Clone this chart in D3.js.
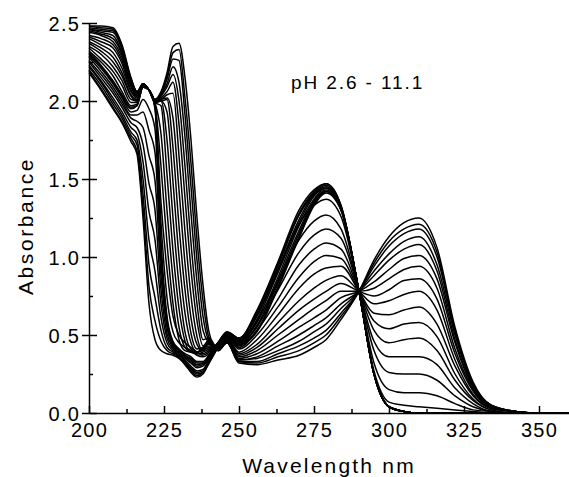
<!DOCTYPE html>
<html>
<head>
<meta charset="utf-8">
<script src="https://cdn.jsdelivr.net/npm/d3@7"></script>
<style>
  html, body { margin: 0; padding: 0; background: #fff; }
  svg { display: block; font-family: 'Liberation Sans', Arial, sans-serif; }
</style>
</head>
<body>
<svg id="chart" width="569" height="477"></svg>
<script>
// Wavelength grid (nm) shared by every spectrum
const wavelengths = [200, 204, 208, 211, 214, 216, 218, 220, 222, 224, 226, 228, 230, 232, 234, 236, 238, 240, 243, 246,
  250, 256, 263, 270, 275, 279, 284, 290, 295, 300, 305, 310, 316, 322, 328, 334, 342, 350, 360];

// pH of each recorded spectrum
const phLevels = [2.6, 3.0, 3.3, 3.6, 3.9, 4.2, 4.5, 4.8, 5.1, 5.5,
  6.0, 6.5, 7.0, 7.3, 7.6, 7.9, 8.2, 8.5, 8.8, 9.1, 9.4, 9.7, 10.0, 10.4, 10.8, 11.1];

// Absorbance, one row per pH (same order as phLevels)
const absorbance = [
  [2.18, 2.07, 1.95, 1.86, 1.74, 1.66, 1.25, 0.70, 0.47, 0.40, 0.38, 0.37, 0.35, 0.31, 0.26, 0.23, 0.25, 0.32, 0.42, 0.49, 0.44, 0.52, 0.80, 1.12, 1.33, 1.41, 1.30, 0.78, 0.25, 0.04, 0.01, 0, 0, 0, 0, 0, 0, 0, 0],
  [2.19, 2.08, 1.96, 1.87, 1.76, 1.68, 1.32, 0.81, 0.59, 0.46, 0.40, 0.38, 0.36, 0.32, 0.27, 0.24, 0.26, 0.32, 0.42, 0.49, 0.44, 0.53, 0.81, 1.13, 1.34, 1.42, 1.30, 0.78, 0.25, 0.04, 0.01, 0, 0, 0, 0, 0, 0, 0, 0],
  [2.20, 2.10, 1.98, 1.89, 1.78, 1.72, 1.40, 0.95, 0.74, 0.53, 0.42, 0.39, 0.36, 0.32, 0.28, 0.25, 0.26, 0.33, 0.43, 0.50, 0.45, 0.55, 0.83, 1.15, 1.35, 1.42, 1.31, 0.78, 0.25, 0.04, 0.01, 0, 0, 0, 0, 0, 0, 0, 0],
  [2.22, 2.12, 2.00, 1.91, 1.80, 1.75, 1.50, 1.11, 0.91, 0.61, 0.45, 0.40, 0.37, 0.33, 0.29, 0.26, 0.27, 0.34, 0.43, 0.50, 0.45, 0.56, 0.85, 1.17, 1.36, 1.43, 1.31, 0.78, 0.25, 0.04, 0.01, 0, 0, 0, 0, 0, 0, 0, 0],
  [2.23, 2.13, 2.02, 1.93, 1.83, 1.79, 1.61, 1.29, 1.11, 0.70, 0.48, 0.41, 0.38, 0.34, 0.30, 0.27, 0.28, 0.34, 0.43, 0.50, 0.46, 0.58, 0.87, 1.20, 1.37, 1.44, 1.31, 0.78, 0.25, 0.04, 0.01, 0, 0, 0, 0, 0, 0, 0, 0],
  [2.25, 2.15, 2.05, 1.96, 1.86, 1.83, 1.72, 1.47, 1.30, 0.79, 0.51, 0.42, 0.38, 0.35, 0.32, 0.29, 0.30, 0.35, 0.44, 0.51, 0.46, 0.60, 0.90, 1.22, 1.39, 1.44, 1.32, 0.78, 0.25, 0.04, 0.01, 0, 0, 0, 0, 0, 0, 0, 0],
  [2.26, 2.17, 2.07, 1.98, 1.89, 1.87, 1.83, 1.65, 1.49, 0.88, 0.55, 0.43, 0.39, 0.36, 0.33, 0.30, 0.31, 0.36, 0.44, 0.51, 0.47, 0.62, 0.92, 1.24, 1.40, 1.45, 1.32, 0.78, 0.25, 0.04, 0.01, 0, 0, 0, 0, 0, 0, 0, 0],
  [2.28, 2.19, 2.09, 2.00, 1.91, 1.91, 1.93, 1.81, 1.67, 0.97, 0.57, 0.44, 0.40, 0.37, 0.34, 0.31, 0.32, 0.36, 0.44, 0.51, 0.47, 0.63, 0.94, 1.27, 1.41, 1.46, 1.32, 0.78, 0.25, 0.04, 0.01, 0, 0, 0, 0, 0, 0, 0, 0],
  [2.29, 2.21, 2.11, 2.02, 1.93, 1.94, 2.01, 1.95, 1.82, 1.04, 0.60, 0.45, 0.41, 0.37, 0.35, 0.32, 0.32, 0.37, 0.45, 0.52, 0.48, 0.65, 0.96, 1.28, 1.42, 1.47, 1.33, 0.78, 0.25, 0.04, 0.01, 0, 0, 0, 0, 0, 0, 0, 0],
  [2.30, 2.22, 2.12, 2.03, 1.95, 1.97, 2.09, 2.07, 1.95, 1.10, 0.62, 0.46, 0.41, 0.38, 0.36, 0.33, 0.33, 0.37, 0.45, 0.52, 0.48, 0.66, 0.97, 1.30, 1.43, 1.47, 1.33, 0.78, 0.25, 0.04, 0.01, 0, 0, 0, 0, 0, 0, 0, 0],
  [2.31, 2.23, 2.13, 2.04, 1.96, 1.97, 2.09, 2.07, 1.96, 1.22, 0.74, 0.52, 0.45, 0.42, 0.40, 0.37, 0.36, 0.38, 0.45, 0.52, 0.48, 0.65, 0.95, 1.27, 1.40, 1.44, 1.31, 0.78, 0.27, 0.07, 0.05, 0.04, 0.03, 0.02, 0.01, 0, 0, 0, 0],
  [2.32, 2.25, 2.16, 2.06, 1.97, 1.98, 2.09, 2.07, 1.97, 1.35, 0.92, 0.62, 0.50, 0.45, 0.42, 0.39, 0.37, 0.39, 0.45, 0.51, 0.46, 0.63, 0.91, 1.21, 1.33, 1.37, 1.26, 0.78, 0.32, 0.15, 0.13, 0.13, 0.11, 0.06, 0.02, 0.01, 0, 0, 0],
  [2.34, 2.27, 2.19, 2.10, 1.99, 1.99, 2.09, 2.07, 1.98, 1.58, 1.09, 0.70, 0.47, 0.40, 0.39, 0.38, 0.38, 0.40, 0.44, 0.51, 0.45, 0.59, 0.84, 1.11, 1.23, 1.27, 1.18, 0.78, 0.40, 0.26, 0.25, 0.25, 0.21, 0.11, 0.04, 0.01, 0, 0, 0],
  [2.35, 2.30, 2.22, 2.13, 2.01, 2.00, 2.10, 2.07, 1.99, 1.79, 1.30, 0.86, 0.55, 0.42, 0.39, 0.38, 0.39, 0.41, 0.44, 0.50, 0.43, 0.56, 0.79, 1.03, 1.14, 1.18, 1.12, 0.78, 0.46, 0.36, 0.36, 0.36, 0.31, 0.16, 0.06, 0.01, 0, 0, 0],
  [2.37, 2.32, 2.25, 2.16, 2.03, 2.00, 2.10, 2.07, 1.99, 1.97, 1.53, 1.04, 0.67, 0.46, 0.39, 0.39, 0.40, 0.42, 0.43, 0.49, 0.42, 0.53, 0.73, 0.95, 1.05, 1.09, 1.05, 0.78, 0.53, 0.45, 0.47, 0.48, 0.40, 0.21, 0.08, 0.02, 0, 0, 0],
  [2.38, 2.34, 2.28, 2.18, 2.04, 2.01, 2.10, 2.07, 1.99, 2.00, 1.75, 1.25, 0.82, 0.52, 0.41, 0.39, 0.41, 0.43, 0.43, 0.49, 0.41, 0.50, 0.68, 0.87, 0.97, 1.01, 0.99, 0.78, 0.59, 0.54, 0.57, 0.58, 0.49, 0.25, 0.09, 0.02, 0, 0, 0],
  [2.40, 2.36, 2.31, 2.21, 2.06, 2.02, 2.10, 2.07, 1.99, 2.00, 1.93, 1.48, 1.00, 0.64, 0.45, 0.39, 0.42, 0.44, 0.42, 0.48, 0.39, 0.47, 0.63, 0.80, 0.89, 0.93, 0.94, 0.78, 0.64, 0.63, 0.66, 0.68, 0.57, 0.30, 0.11, 0.03, 0.01, 0, 0],
  [2.41, 2.38, 2.34, 2.24, 2.07, 2.03, 2.10, 2.07, 2.00, 2.00, 2.01, 1.70, 1.20, 0.79, 0.51, 0.41, 0.42, 0.45, 0.42, 0.48, 0.38, 0.44, 0.58, 0.72, 0.80, 0.85, 0.88, 0.78, 0.70, 0.72, 0.76, 0.78, 0.66, 0.34, 0.12, 0.03, 0.01, 0, 0],
  [2.42, 2.40, 2.36, 2.26, 2.09, 2.03, 2.10, 2.07, 2.00, 2.01, 2.02, 1.89, 1.43, 0.96, 0.61, 0.44, 0.40, 0.45, 0.42, 0.47, 0.37, 0.42, 0.54, 0.66, 0.73, 0.78, 0.83, 0.78, 0.75, 0.79, 0.85, 0.86, 0.73, 0.38, 0.14, 0.03, 0.01, 0, 0],
  [2.44, 2.42, 2.38, 2.28, 2.10, 2.04, 2.11, 2.07, 2.00, 2.01, 2.04, 2.05, 1.65, 1.16, 0.75, 0.49, 0.40, 0.46, 0.41, 0.47, 0.36, 0.40, 0.50, 0.60, 0.67, 0.72, 0.78, 0.78, 0.80, 0.86, 0.92, 0.94, 0.80, 0.41, 0.15, 0.04, 0.01, 0, 0],
  [2.45, 2.43, 2.40, 2.30, 2.11, 2.04, 2.11, 2.07, 2.00, 2.02, 2.06, 2.12, 1.85, 1.38, 0.92, 0.59, 0.43, 0.47, 0.41, 0.46, 0.35, 0.38, 0.46, 0.55, 0.61, 0.66, 0.74, 0.78, 0.84, 0.92, 0.99, 1.01, 0.86, 0.45, 0.16, 0.04, 0.01, 0, 0],
  [2.46, 2.44, 2.42, 2.31, 2.12, 2.05, 2.11, 2.07, 2.00, 2.03, 2.09, 2.17, 2.00, 1.58, 1.09, 0.70, 0.47, 0.48, 0.41, 0.46, 0.34, 0.36, 0.43, 0.50, 0.56, 0.61, 0.70, 0.78, 0.88, 0.98, 1.05, 1.08, 0.91, 0.47, 0.17, 0.04, 0.01, 0, 0],
  [2.46, 2.45, 2.44, 2.33, 2.13, 2.05, 2.11, 2.07, 2.00, 2.04, 2.11, 2.22, 2.12, 1.77, 1.28, 0.84, 0.53, 0.45, 0.41, 0.46, 0.34, 0.35, 0.40, 0.46, 0.52, 0.57, 0.67, 0.78, 0.91, 1.02, 1.10, 1.13, 0.95, 0.50, 0.18, 0.05, 0.01, 0, 0],
  [2.47, 2.46, 2.45, 2.34, 2.14, 2.06, 2.11, 2.07, 2.01, 2.04, 2.14, 2.27, 2.26, 1.91, 1.45, 0.98, 0.62, 0.46, 0.40, 0.45, 0.33, 0.33, 0.38, 0.43, 0.48, 0.53, 0.64, 0.78, 0.94, 1.07, 1.15, 1.18, 1.00, 0.52, 0.19, 0.05, 0.01, 0, 0],
  [2.48, 2.47, 2.46, 2.35, 2.14, 2.06, 2.11, 2.07, 2.01, 2.05, 2.16, 2.31, 2.33, 2.02, 1.60, 1.11, 0.72, 0.48, 0.40, 0.45, 0.33, 0.32, 0.36, 0.40, 0.45, 0.50, 0.62, 0.78, 0.96, 1.10, 1.18, 1.21, 1.03, 0.53, 0.19, 0.05, 0.01, 0, 0],
  [2.48, 2.48, 2.47, 2.36, 2.15, 2.06, 2.11, 2.07, 2.01, 2.06, 2.18, 2.35, 2.37, 2.15, 1.75, 1.25, 0.82, 0.52, 0.40, 0.45, 0.32, 0.31, 0.34, 0.37, 0.42, 0.47, 0.60, 0.78, 0.98, 1.13, 1.22, 1.25, 1.06, 0.55, 0.20, 0.05, 0.01, 0, 0],
];

// Axis ticks and labels
const xTicks = [200, 225, 250, 275, 300, 325, 350];
const xMinorTicks = [212.5, 237.5, 262.5, 287.5, 312.5, 337.5];
const yTicks = [0, 0.5, 1.0, 1.5, 2.0, 2.5];
const yMinorTicks = [0.25, 0.75, 1.25, 1.75, 2.25];
const xTitle = 'Wavelength nm';
const yTitle = 'Absorbance';
const rangeLabel = 'pH 2.6 - 11.1';

// Layout
const svg = d3.select('#chart');
const margin = {
  top: 23, right: 0, bottom: 64, left: 89,
};
const width = 569 - margin.left - margin.right;
const height = 477 - margin.top - margin.bottom;

const x = d3.scaleLinear().domain([200, 360]).range([0, width]);
const y = d3.scaleLinear().domain([0, 2.5]).range([height, 0]);

const plot = svg.append('g')
  .attr('transform', `translate(${margin.left},${margin.top})`);

// Spectra
const line = d3.line()
  .x((d, i) => x(wavelengths[i]))
  .y((d) => y(d))
  .curve(d3.curveMonotoneX);

plot.append('g')
  .selectAll('path')
  .data(absorbance)
  .enter()
  .append('path')
  .attr('class', 'spectrum')
  .attr('data-ph', (d, i) => phLevels[i])
  .attr('d', line)
  .attr('fill', 'none')
  .attr('stroke', '#000')
  .attr('stroke-width', 1.5)
  .attr('stroke-linejoin', 'round');

// X axis (ticks point inward)
const xAxis = plot.append('g')
  .attr('transform', `translate(0,${height})`)
  .call(d3.axisBottom(x).tickValues(xTicks).tickSize(-7).tickSizeOuter(0)
    .tickFormat(d3.format('d')));
plot.append('g')
  .attr('transform', `translate(0,${height})`)
  .call(d3.axisBottom(x).tickValues(xMinorTicks).tickSize(-4).tickSizeOuter(0)
    .tickFormat(''))
  .select('.domain').remove();

// Y axis (major ticks cross the line, minor ticks inward)
const yAxis = plot.append('g')
  .call(d3.axisLeft(y).tickValues(yTicks).tickSize(7).tickSizeOuter(0)
    .tickFormat(d3.format('.1f')));
plot.append('g')
  .call(d3.axisLeft(y).tickValues(yTicks).tickSize(-8).tickFormat(''))
  .select('.domain').remove();
plot.append('g')
  .call(d3.axisLeft(y).tickValues(yMinorTicks).tickSize(-4).tickFormat(''))
  .select('.domain').remove();

plot.selectAll('.domain, .tick line')
  .attr('stroke', '#000')
  .attr('stroke-width', 1.5);

xAxis.selectAll('text')
  .attr('y', 24)
  .attr('dy', 0)
  .attr('font-size', 20)
  .attr('letter-spacing', 1.2)
  .attr('font-family', "'Liberation Sans', Arial, sans-serif")
  .attr('fill', '#000');

yAxis.selectAll('text')
  .attr('x', -9)
  .attr('dy', '0.36em')
  .attr('font-size', 20)
  .attr('letter-spacing', 1.2)
  .attr('font-family', "'Liberation Sans', Arial, sans-serif")
  .attr('fill', '#000');

// Titles
svg.append('text')
  .attr('x', margin.left + width / 2)
  .attr('y', 473)
  .attr('text-anchor', 'middle')
  .attr('font-size', 21)
  .attr('letter-spacing', 2.2)
  .text(xTitle);

svg.append('text')
  .attr('transform', 'translate(33,226) rotate(-90)')
  .attr('text-anchor', 'middle')
  .attr('font-size', 21)
  .attr('letter-spacing', 2.6)
  .text(yTitle);

svg.append('text')
  .attr('x', 291)
  .attr('y', 89)
  .attr('font-size', 19)
  .attr('letter-spacing', 1.9)
  .text(rangeLabel);
</script>
</body>
</html>
